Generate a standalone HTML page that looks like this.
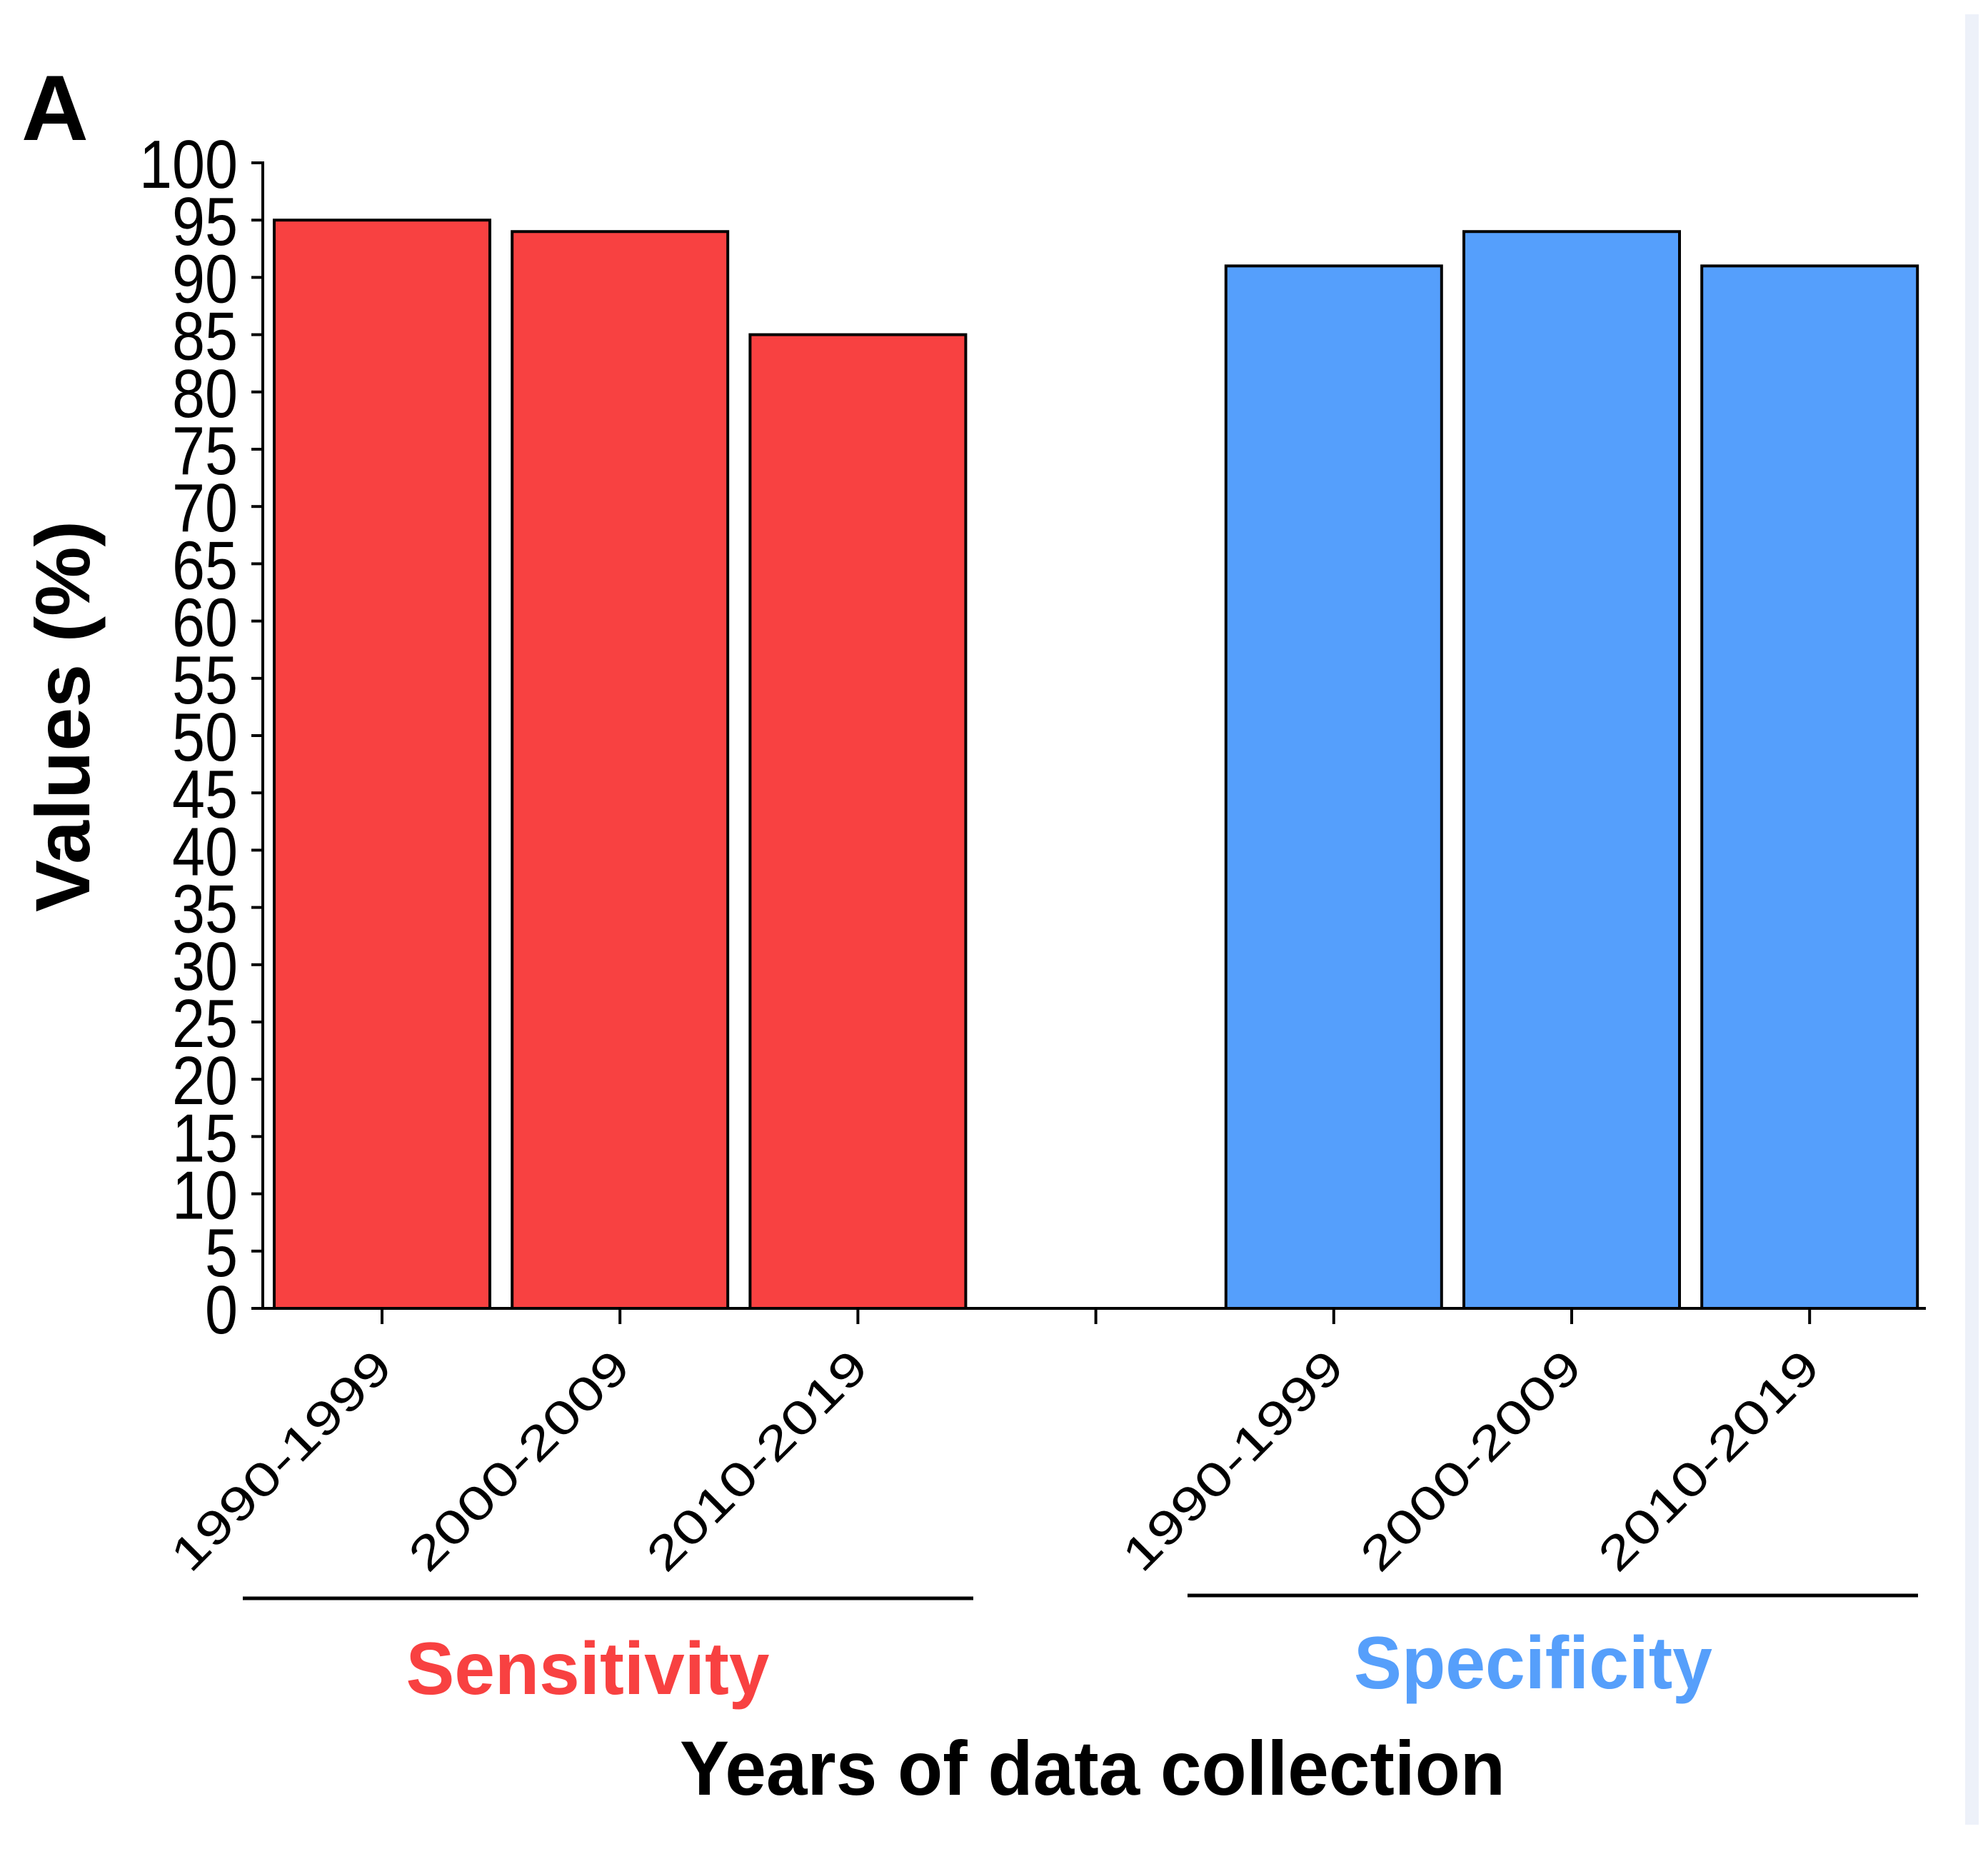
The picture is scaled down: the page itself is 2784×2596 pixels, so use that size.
<!DOCTYPE html>
<html><head><meta charset="utf-8"><style>
html,body{margin:0;padding:0;background:#fff;}
svg{display:block;}
text{font-family:"Liberation Sans",Arial,sans-serif;}
</style></head><body>
<svg id="chart" width="2784" height="2596" viewBox="0 0 2784 2596" xmlns="http://www.w3.org/2000/svg">
<rect x="2752" y="20" width="19" height="2535" fill="#edf1f9"/>
<text x="30" y="196" font-size="130" font-weight="bold">A</text>
<text transform="translate(125,1003) rotate(-90)" text-anchor="middle" font-size="108" font-weight="bold" textLength="548" lengthAdjust="spacingAndGlyphs">Values (%)</text>
<g id="yaxis"></g>
<g id="bars"></g>
<g id="xaxis"></g>
<line x1="340" y1="2238" x2="1363" y2="2238" stroke="#000" stroke-width="5"/>
<line x1="1663" y1="2234" x2="2686" y2="2234" stroke="#000" stroke-width="5"/>
<text x="823" y="2372" text-anchor="middle" font-size="104" font-weight="bold" fill="#f84141" textLength="509" lengthAdjust="spacingAndGlyphs">Sensitivity</text>
<text x="2147" y="2364" text-anchor="middle" font-size="104" font-weight="bold" fill="#569ffb" textLength="502" lengthAdjust="spacingAndGlyphs">Specificity</text>
<text x="1530" y="2513" text-anchor="middle" font-size="108" font-weight="bold" textLength="1156" lengthAdjust="spacingAndGlyphs">Years of data collection</text>
</svg>
<script>
const categories = ["1990-1999","2000-2009","2010-2019"];
const sensitivityValues = [95, 94, 85];
const specificityValues = [91, 94, 91];
const yTicks = [0,5,10,15,20,25,30,35,40,45,50,55,60,65,70,75,80,85,90,95,100];

const NS = "http://www.w3.org/2000/svg";
const y0 = 1832, yTop = 228, axisX = 368;
const yScale = v => y0 - (v / 100) * (y0 - yTop);
const slotX = i => 535 + 333.2 * i;
const barW = 302;

function mk(tag, attrs, parent) {
  const e = document.createElementNS(NS, tag);
  for (const k in attrs) e.setAttribute(k, attrs[k]);
  parent.appendChild(e);
  return e;
}
const yaxis = document.getElementById('yaxis');
const bars = document.getElementById('bars');
const xaxis = document.getElementById('xaxis');

const yl = mk('line', {x1: axisX, y1: yTop - 2, x2: axisX, y2: y0 + 2, stroke: '#000', 'stroke-width': 4}, yaxis);


yTicks.forEach(t => {
  const y = yScale(t);
  const tk = mk('line', {x1: axisX - 16, y1: y, x2: axisX, y2: y, stroke: '#000', 'stroke-width': 4}, yaxis);
  
  
  const s = String(t);
  const tx = mk('text', {x: 333, y: y + 35, 'text-anchor': 'end', 'font-size': 96, textLength: s.length * 46, lengthAdjust: 'spacingAndGlyphs'}, yaxis);
  tx.textContent = s;
  
  
});

const xl = mk('line', {x1: axisX - 2, y1: y0, x2: 2697, y2: y0, stroke: '#000', 'stroke-width': 4}, xaxis);


for (let i = 0; i < 7; i++) {
  const tk = mk('line', {x1: slotX(i), y1: y0, x2: slotX(i), y2: y0 + 22, stroke: '#000', 'stroke-width': 4}, xaxis);
  
  
}

function drawGroup(values, offset, color, name) {
  values.forEach((v, i) => {
    const cx = slotX(i + offset);
    const b = mk('rect', {x: cx - barW / 2, y: yScale(v), width: barW, height: y0 - yScale(v), fill: color, stroke: '#000', 'stroke-width': 4}, bars);
    
    
    const lx = cx + 18, ly = 1918;
    const t = mk('text', {x: lx, y: ly, 'text-anchor': 'end', 'font-size': 66, textLength: 405, lengthAdjust: 'spacingAndGlyphs', transform: 'rotate(-45 ' + lx + ' ' + ly + ')'}, xaxis);
    t.textContent = categories[i];
    
    
  });
}
drawGroup(sensitivityValues, 0, '#f84141', 'sensitivity');
drawGroup(specificityValues, 4, '#559ffc', 'specificity');
</script>
</body></html>
